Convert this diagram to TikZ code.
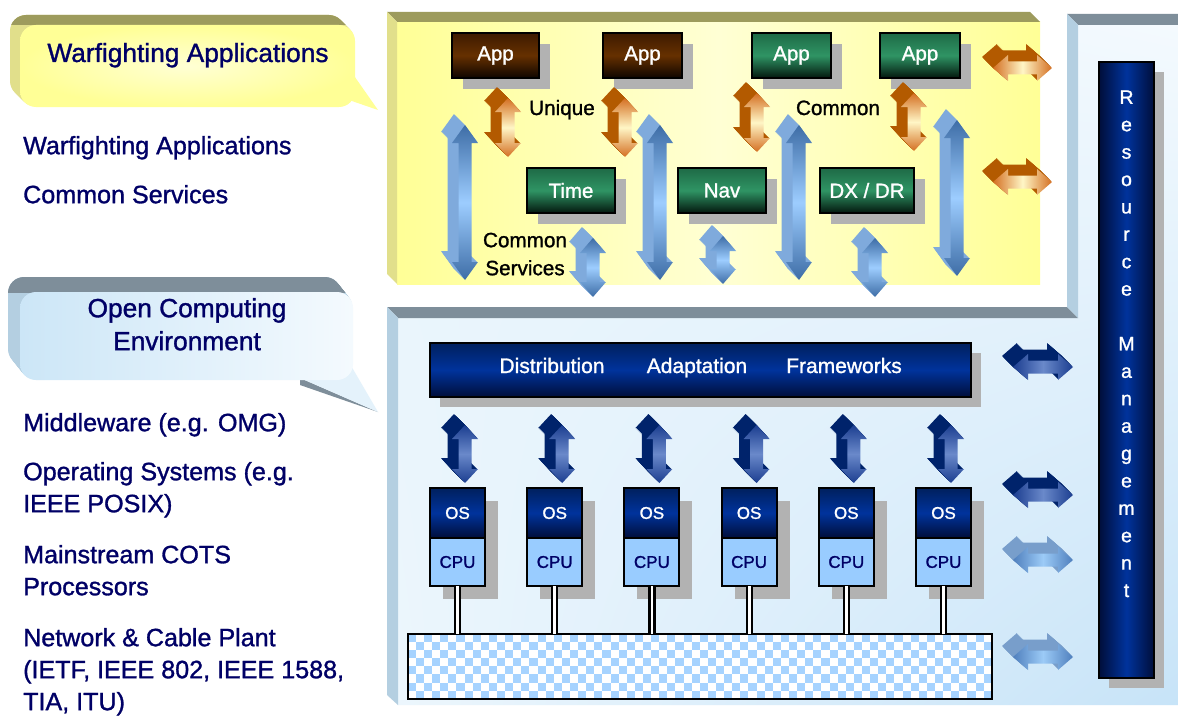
\documentclass[tikz,border=0pt]{standalone}
\usepackage{fontspec}
\setmainfont{Liberation Sans}[FakeBold=1.2]
\usetikzlibrary{positioning,shadows,shadings}

\definecolor{navytext}{HTML}{000066}
\definecolor{shadowgrey}{HTML}{B2B2B2}
\definecolor{olivetop}{HTML}{9D9B5D}
\definecolor{olivelight}{HTML}{E1DF8B}
\definecolor{paleyellow}{HTML}{FFFFD4}
\definecolor{lemon}{HTML}{FFFF96}
\definecolor{steeltop}{HTML}{7E8E9A}
\definecolor{steellight}{HTML}{B4CFE1}
\definecolor{calloutblue}{HTML}{CCE6F7}
\definecolor{calloutwhite}{HTML}{F4FAFE}
\definecolor{browntop}{HTML}{3E1A00}
\definecolor{brownmid}{HTML}{663000}
\definecolor{brownend}{HTML}{0E0500}
\definecolor{greentop}{HTML}{1E6A46}
\definecolor{greenmid}{HTML}{2F9464}
\definecolor{greenend}{HTML}{03170E}
\definecolor{navytop}{HTML}{00205E}
\definecolor{navymid}{HTML}{00339C}
\definecolor{navyend}{HTML}{000E3A}
\definecolor{cpublue}{HTML}{99CCFF}
\definecolor{checkblue}{HTML}{A6D3FF}
\definecolor{orangeback}{HTML}{B35A00}
\definecolor{orangeend}{HTML}{D46F22}
\definecolor{orangemid}{HTML}{FFF6C6}
\definecolor{skyback}{HTML}{7FAADC}
\definecolor{skyend}{HTML}{3E6DA6}
\definecolor{skymid}{HTML}{9DCDFF}
\definecolor{deepback}{HTML}{00236B}
\definecolor{deepend}{HTML}{1C3E90}
\definecolor{deepmid}{HTML}{6A89CA}
\definecolor{paleback}{HTML}{789ECB}
\definecolor{paleend}{HTML}{4F7FBD}
\definecolor{palemid}{HTML}{9CCBF7}

\newcommand{\listfnt}{\fontsize{25.1}{32}\selectfont}
\newcommand{\calloutfnt}{\fontsize{26.3}{33}\selectfont}
\newcommand{\labelfnt}{\fontsize{20.7}{28}\selectfont}
\newcommand{\boxfnt}{\fontsize{20.5}{24}\selectfont}
\newcommand{\barfnt}{\fontsize{21}{25}\selectfont}
\newcommand{\osfnt}{\fontsize{17}{20}\selectfont}
\newcommand{\mgmtfnt}{\fontsize{19.5}{27.4}\selectfont}

% block arrow outlines: centre, tip, tip, head length
\newcommand{\vpath}[4]{(#1,#2) -- ++(13,#4) -- ++(-6.5,0) -- (#1+6.5,#3-#4) -- ++(6.5,0) -- (#1,#3) -- ++(-13,-#4) -- ++(6.5,0) -- (#1-6.5,#2+#4) -- ++(-6.5,0) -- cycle}
\newcommand{\hpath}[4]{(#2,#1) -- ++(#4,-13) -- ++(0,6.5) -- (#3-#4,#1-6.5) -- ++(0,-6.5) -- (#3,#1) -- ++(-#4,13) -- ++(0,-6.5) -- (#2+#4,#1+6.5) -- ++(0,6.5) -- cycle}
% 3d double arrows
\newcommand{\blockV}[5][14]{%
  \foreach \k in {1,...,11} {\fill[#5 back,shift={(-\k,-\k)}] \vpath{#2}{#3}{#4}{#1};}
  \path[#5 V] \vpath{#2}{#3}{#4}{#1};}
\newcommand{\blockH}[5][15]{%
  \foreach \k in {1,...,11} {\fill[#5 back,shift={(-\k,-\k)}] \hpath{#2}{#3}{#4}{#1};}
  \path[#5 H] \hpath{#2}{#3}{#4}{#1};}

\begin{document}
\begin{tikzpicture}[x=1pt,y=-1pt,
  listtext/.style={anchor=north west,inner sep=0pt,align=left,text=navytext,font=\listfnt},
  callouttext/.style={inner sep=0pt,text=navytext,font=\calloutfnt},
  plainlabel/.style={anchor=base,inner sep=0pt,text=black,font=\labelfnt},
  boxshadow/.style={drop shadow={shadow xshift=#1pt,shadow yshift=-#1pt,fill=shadowgrey,opacity=1}},
  appbrown/.style={draw=black,line width=2pt,top color=browntop,bottom color=brownend,middle color=brownmid,
    text=white,font=\boxfnt,minimum height=45pt,inner sep=0pt,boxshadow=11},
  appgreen/.style={draw=black,line width=2pt,top color=greentop,bottom color=greenend,middle color=greenmid,
    text=white,font=\boxfnt,minimum height=45pt,inner sep=0pt,boxshadow=11},
  distbar/.style={draw=black,line width=2pt,top color=navytop,bottom color=navyend,middle color=navymid,
    minimum width=541pt,minimum height=54pt,boxshadow=10},
  barlabel/.style={anchor=base,inner sep=0pt,text=white,font=\barfnt},
  osbox/.style={draw=black,line width=2pt,outer sep=0pt,top color=navytop,bottom color=navyend,middle color=navymid,
    text=white,font=\osfnt,minimum width=55pt,minimum height=50pt,inner sep=0pt,boxshadow=13},
  cpubox/.style={draw=black,line width=2pt,outer sep=0pt,fill=cpublue,text=navytext,font=\osfnt,
    minimum width=55pt,minimum height=48pt,inner sep=0pt,boxshadow=13},
  cable/.style={draw=black,line width=2.2pt,double=white,double distance=2.8pt},
  netplate/.style={fill=white,minimum width=584pt,minimum height=65pt,inner sep=0pt},
  mgmtbar/.style={draw=black,line width=2pt,left color=navyend,right color=navyend,middle color=navymid,
    minimum width=55pt,minimum height=616pt,boxshadow=10},
  mgmtlabel/.style={anchor=north,inner sep=0pt,align=center,text=white,font=\mgmtfnt},
  orange back/.style={fill=orangeback},
  orange V/.style={top color=orangeend,bottom color=orangeend,middle color=orangemid},
  orange H/.style={left color=orangeend,right color=orangeend,middle color=orangemid},
  sky back/.style={fill=skyback},
  sky V/.style={top color=skyend,bottom color=skyend,middle color=skymid},
  deep back/.style={fill=deepback},
  deep V/.style={top color=deepend,bottom color=deepend,middle color=deepmid},
  deep H/.style={left color=deepend,right color=deepend,middle color=deepmid},
  pale back/.style={fill=paleback},
  pale H/.style={left color=paleend,right color=paleend,middle color=palemid}]

\useasboundingbox (0,0) rectangle (1178,717);
\fill[white] (0,0) rectangle (1178,717);

% open computing panel (L shape)
\shade[upper left=calloutwhite!70!calloutblue,upper right=calloutwhite,lower left=calloutwhite!80!calloutblue,lower right=calloutblue!90!cpublue]
  (398,318) -- (1078,318) -- (1078,25) -- (1178,25) -- (1178,705) -- (398,705) -- cycle;
\fill[steeltop] (387,307) -- (1067,307) -- (1078,318) -- (398,318) -- cycle;
\fill[steellight] (387,307) -- (398,318) -- (398,705) -- (387,695) -- cycle;
\fill[steeltop] (1067,14) -- (1178,14) -- (1178,25) -- (1078,25) -- cycle;
\fill[steellight] (1067,14) -- (1078,25) -- (1078,318) -- (1067,307) -- cycle;

% warfighting panel
\shade[left color=lemon,right color=lemon,middle color=paleyellow] (397,22) rectangle (1040,284);
\fill[olivetop] (387,12) -- (1030,12) -- (1040,22) -- (397,22) -- cycle;
\fill[olivelight] (387,12) -- (397,22) -- (397,284) -- (387,274) -- cycle;

% callouts
\foreach \k in {1,...,10} {\fill[olivelight,rounded corners=16,shift={(-\k,-\k)}] (20,25) rectangle (355,107);}
\begin{scope}
  \clip (0,0) rectangle (380,25);
  \foreach \k in {1,...,10} {\fill[olivetop,rounded corners=16,shift={(-\k,-\k)}] (20,25) rectangle (355,107);}
\end{scope}
\fill[lemon] (350,70) -- (378,110) -- (346,99) -- cycle;
\path[inner color=paleyellow,outer color=lemon,rounded corners=16] (20,25) rectangle (355,107);

\foreach \k in {1,...,15} {\fill[steellight,rounded corners=16,shift={(-0.8*\k,-\k)}] (20,292) rectangle (353,380);}
\begin{scope}
  \clip (0,250) rectangle (380,292);
  \foreach \k in {1,...,15} {\fill[steeltop,rounded corners=16,shift={(-0.8*\k,-\k)}] (20,292) rectangle (353,380);}
\end{scope}
\fill[steeltop] (300,378) -- (378,412) -- (300,385) -- cycle;
\fill[calloutwhite!60!calloutblue] (300,378) -- (378,412) -- (350,364) -- cycle;
\path[left color=calloutblue,right color=calloutwhite,rounded corners=16] (20,292) rectangle (353,380);

\node[callouttext,anchor=base] (wfcallout) at (188,62) {Warfighting Applications};
\node[callouttext,anchor=north,align=center] (occallout) at (187,293.9) {\strut Open Computing\\Environment};

% left column
\node[listtext] (lwarf) at (23,131.6) {\strut Warfighting Applications};
\node[listtext] (lcommon) at (23,180.6) {\strut Common Services};
\node[listtext] (lmiddle) at (23,408.6) {\strut Middleware (e.g. OMG)};
\node[listtext] (lopsys) at (23,457.6) {\strut Operating Systems (e.g.\\IEEE POSIX)};
\node[listtext] (lcots) at (23,540.6) {\strut Mainstream COTS\\Processors};
\node[listtext] (lnet) at (23,623.6) {\strut Network \& Cable Plant\\(IETF, IEEE 802, IEEE 1588,\\TIA, ITU)};

% applications and services
\node[appbrown,minimum width=87pt] (app1) at (495.5,55.5) {App};
\node[appbrown,minimum width=79pt] (app2) at (642.5,55.5) {App};
\node[appgreen,minimum width=79pt] (app3) at (791.5,55.5) {App};
\node[appgreen,minimum width=80pt] (app4) at (920,55.5) {App};
\node[appgreen,minimum width=88pt] (time) at (571,190.5) {Time};
\node[appgreen,minimum width=88pt] (nav) at (722,190.5) {Nav};
\node[appgreen,minimum width=94pt] (dxdr) at (867,190.5) {DX / DR};

\node[plainlabel] (uniquelbl) at (562,115) {Unique};
\node[plainlabel] (commonlbl) at (838,115) {Common};
\node[plainlabel,anchor=north,align=center] (serviceslbl) at (525,227.4) {\strut Common\\Services};

\blockV{508}{98}{157}{orange}
\blockV{625}{98}{157}{orange}
\blockV{757}{93}{152}{orange}
\blockV{914}{93}{151}{orange}
\blockH{68}{993}{1052}{orange}
\blockH{182}{993}{1052}{orange}

\blockV[18]{465}{125}{280}{sky}
\blockV[18]{660}{125}{280}{sky}
\blockV[18]{799}{125}{280}{sky}
\blockV[18]{957}{120}{276}{sky}
\blockV[15]{593}{238}{297}{sky}
\blockV[15]{723}{236}{284}{sky}
\blockV[15]{875}{238}{297}{sky}

% middleware
\node[distbar] (dist) at (700.5,370) {};
\node[barlabel] (distlbl) at (552,373) {Distribution};
\node[barlabel] (adaptlbl) at (697,373) {Adaptation};
\node[barlabel] (framelbl) at (844,373) {Frameworks};

% processors and network
\node[netplate] (net) at (700,666.5) {};
\begin{scope}[shift={(net.north west)}]
  \foreach \i in {0,...,71}
    \foreach \j in {0,...,7} {
      \pgfmathtruncatemacro{\odd}{mod(\i+\j,2)}
      \ifnum\odd=0 \fill[checkblue] (8.11*\i,8.125*\j) rectangle ++(8.11,8.125); \fi
    }
\end{scope}
\draw[line width=1.5pt] (net.north west) rectangle (net.south east);

\foreach \i in {1,...,6} {
  \node[osbox] (os\i) at ({457.5+97.2*(\i-1)},513) {OS};
  \node[cpubox,below=0pt of os\i] (cpu\i) {CPU};
  \draw[cable] (cpu\i.south) -- (cpu\i.south |- net.north);
}
\foreach \i in {0,...,5} {\blockV{465+97.2*\i}{425}{483}{deep}}

\blockH{367}{1013}{1073}{deep}
\blockH{495}{1013}{1073}{deep}
\blockH{560}{1013}{1073}{pale}
\blockH{657}{1013}{1073}{pale}

% resource management
\node[mgmtbar] (mgmt) at (1126.5,370) {};
\node[mgmtlabel] (mgmtlbl) at (1126.5,90.2) {R\\e\\s\\o\\u\\r\\c\\e\\[27.4pt]M\\a\\n\\a\\g\\e\\m\\e\\n\\t};
\end{tikzpicture}
\end{document}
